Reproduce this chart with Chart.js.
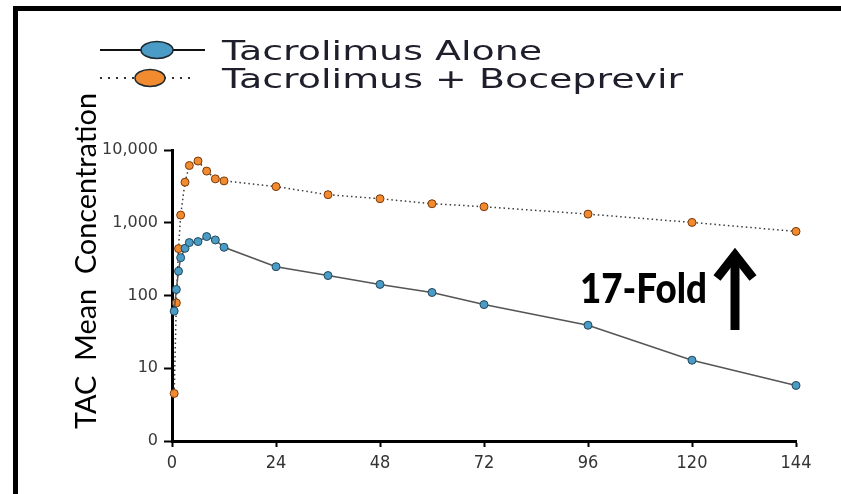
<!DOCTYPE html>
<html>
<head>
<meta charset="utf-8">
<title>Tacrolimus concentration</title>
<script src="https://cdn.jsdelivr.net/npm/chart.js@4.4.1/dist/chart.umd.min.js"></script>
<style>
  html, body { margin: 0; padding: 0; background: #fff; }
  #wrap { width: 841px; height: 494px; position: relative; }
  canvas { display: block; }
</style>
</head>
<body>
<div id="wrap"><canvas id="pk" width="841" height="494"></canvas></div>
<script>
// Sampling times (hours after dose)
const hours = [0.5, 1, 1.5, 2, 3, 4, 6, 8, 10, 12, 24, 36, 48, 60, 72, 96, 120, 144];
// Mean tacrolimus concentrations
const tacAlone = [61, 121, 216, 331, 445, 534, 551, 646, 580, 460, 249, 188, 142, 110, 75, 39, 12.9, 5.8];
const tacBoceprevir = [4.5, 79, 441, 1274, 3610, 6120, 7050, 5130, 4010, 3760, 3140, 2430, 2140, 1825, 1660, 1315, 1010, 760];
const seriesNames = ['Tacrolimus Alone', 'Tacrolimus + Boceprevir'];
const xTickValues = [0, 24, 48, 72, 96, 120, 144];
const yTickValues = [1, 10, 100, 1000, 10000];
const yTickLabels = ['0', '10', '100', '1,000', '10,000'];
const yTitle = 'TAC  Mean  Concentration';
const foldLabel = '17-Fold';

const X_TICK_FONT = '"DejaVu Sans Condensed", "DejaVu Sans", sans-serif';
const Y_TICK_FONT = '"DejaVu Sans", sans-serif';

const pairs = (xs, ys) => xs.map((x, i) => ({ x: x, y: ys[i] }));

// White page with the black frame along the top and left
const framePlugin = {
  id: 'frame',
  beforeDraw(chart) {
    const ctx = chart.ctx;
    ctx.save();
    ctx.fillStyle = '#ffffff';
    ctx.fillRect(0, 0, chart.width, chart.height);
    ctx.fillStyle = '#000000';
    ctx.fillRect(13, 6, chart.width - 13, 5);
    ctx.fillRect(13, 6, 5, chart.height - 6);
    ctx.restore();
  }
};

// Legend with wide line-and-marker samples
const legendPlugin = {
  id: 'wideLegend',
  afterDraw(chart) {
    const ctx = chart.ctx;
    const rows = [
      { y: 50, x0: 100, x1: 205, cx: 157, rx: 16 },
      { y: 78, x0: 100, x1: 192, cx: 150, rx: 15 }
    ];
    chart.data.datasets.forEach((ds, i) => {
      const r = rows[i];
      ctx.save();
      ctx.strokeStyle = i === 0 ? '#111111' : '#333333';
      ctx.lineWidth = 2;
      ctx.setLineDash(i === 0 ? [] : [2, 6]);
      ctx.beginPath();
      ctx.moveTo(r.x0, r.y);
      ctx.lineTo(r.x1, r.y);
      ctx.stroke();
      ctx.setLineDash([]);
      ctx.beginPath();
      ctx.ellipse(r.cx, r.y, r.rx, 8.5, 0, 0, Math.PI * 2);
      ctx.fillStyle = ds.pointBackgroundColor;
      ctx.fill();
      ctx.lineWidth = 1.5;
      ctx.strokeStyle = '#1e2a30';
      ctx.stroke();
      // label, drawn wide
      ctx.translate(222, r.y + 10);
      ctx.scale(1.46, 1);
      ctx.font = '26px "DejaVu Sans", sans-serif';
      ctx.fillStyle = '#1f1f2c';
      ctx.textBaseline = 'alphabetic';
      ctx.textAlign = 'left';
      ctx.fillText(ds.label, 0, 0);
      ctx.restore();
    });
  }
};

// Rotated y-axis title
const yTitlePlugin = {
  id: 'yTitle',
  afterDraw(chart) {
    const ctx = chart.ctx;
    ctx.save();
    ctx.translate(96, 261);
    ctx.rotate(-Math.PI / 2);
    ctx.font = '28px Lato, "Liberation Sans", sans-serif';
    const w = ctx.measureText(yTitle).width;
    ctx.scale(336 / w, 1);
    ctx.fillStyle = '#000000';
    ctx.textAlign = 'center';
    ctx.textBaseline = 'alphabetic';
    ctx.fillText(yTitle, 0, 0);
    ctx.restore();
  }
};

// Fold-change callout with upward arrow
const foldPlugin = {
  id: 'fold',
  afterDraw(chart) {
    const ctx = chart.ctx;
    ctx.save();
    ctx.font = '900 41px Lato, "Liberation Sans", sans-serif';
    const w = ctx.measureText(foldLabel).width;
    ctx.translate(580, 303);
    ctx.scale(127 / w, 1);
    ctx.fillStyle = '#000000';
    ctx.textAlign = 'left';
    ctx.textBaseline = 'alphabetic';
    ctx.fillText(foldLabel, 0, 0);
    ctx.restore();

    ctx.save();
    ctx.strokeStyle = '#000000';
    ctx.lineWidth = 9;
    ctx.lineCap = 'butt';
    ctx.lineJoin = 'miter';
    ctx.beginPath();
    ctx.moveTo(735, 330);
    ctx.lineTo(735, 258);
    ctx.stroke();
    ctx.beginPath();
    ctx.moveTo(717, 278);
    ctx.lineTo(735, 255);
    ctx.lineTo(753, 278);
    ctx.stroke();
    ctx.restore();
  }
};

new Chart(document.getElementById('pk'), {
  type: 'line',
  data: {
    datasets: [
      {
        label: seriesNames[0],
        data: pairs(hours, tacAlone),
        borderColor: '#555555',
        borderWidth: 1.5,
        pointBackgroundColor: '#4a9bc5',
        pointBorderColor: '#23485a',
        pointBorderWidth: 1,
        pointRadius: 4,
        tension: 0,
        clip: false
      },
      {
        label: seriesNames[1],
        data: pairs(hours, tacBoceprevir),
        borderColor: '#3a3a3a',
        borderWidth: 1.5,
        borderDash: [1.5, 3],
        pointBackgroundColor: '#f28a30',
        pointBorderColor: '#7a3b0c',
        pointBorderWidth: 1,
        pointRadius: 4,
        tension: 0,
        clip: false
      }
    ]
  },
  options: {
    responsive: false,
    devicePixelRatio: 1,
    animation: false,
    layout: { padding: { left: 0, top: 150, right: 45, bottom: 0 } },
    plugins: {
      legend: { display: false },
      tooltip: { enabled: false },
      title: { display: false }
    },
    scales: {
      x: {
        type: 'linear',
        min: 0,
        max: 144,
        afterBuildTicks(scale) {
          scale.ticks = xTickValues.map(v => ({ value: v }));
        },
        afterFit(scale) { scale.height = 53; },
        ticks: {
          autoSkip: false,
          maxRotation: 0,
          padding: 6,
          color: '#333333',
          font: { family: X_TICK_FONT, size: 18 }
        },
        grid: {
          drawOnChartArea: false,
          drawTicks: true,
          tickLength: 6,
          tickWidth: 2,
          tickColor: '#000000'
        },
        border: { display: true, color: '#000000', width: 3 }
      },
      y: {
        type: 'logarithmic',
        min: 1,
        max: 10000,
        afterBuildTicks(scale) {
          scale.ticks = yTickValues.map(v => ({ value: v }));
        },
        afterFit(scale) { scale.width = 172; },
        ticks: {
          autoSkip: false,
          padding: 6,
          color: '#3a3a3a',
          font: { family: Y_TICK_FONT, size: 16 },
          callback: (value) => yTickLabels[yTickValues.indexOf(value)]
        },
        grid: {
          drawOnChartArea: false,
          drawTicks: true,
          tickLength: 8,
          tickWidth: 2,
          tickColor: '#000000'
        },
        border: { display: true, color: '#000000', width: 3 }
      }
    }
  },
  plugins: [framePlugin, legendPlugin, yTitlePlugin, foldPlugin]
});
</script>
</body>
</html>
